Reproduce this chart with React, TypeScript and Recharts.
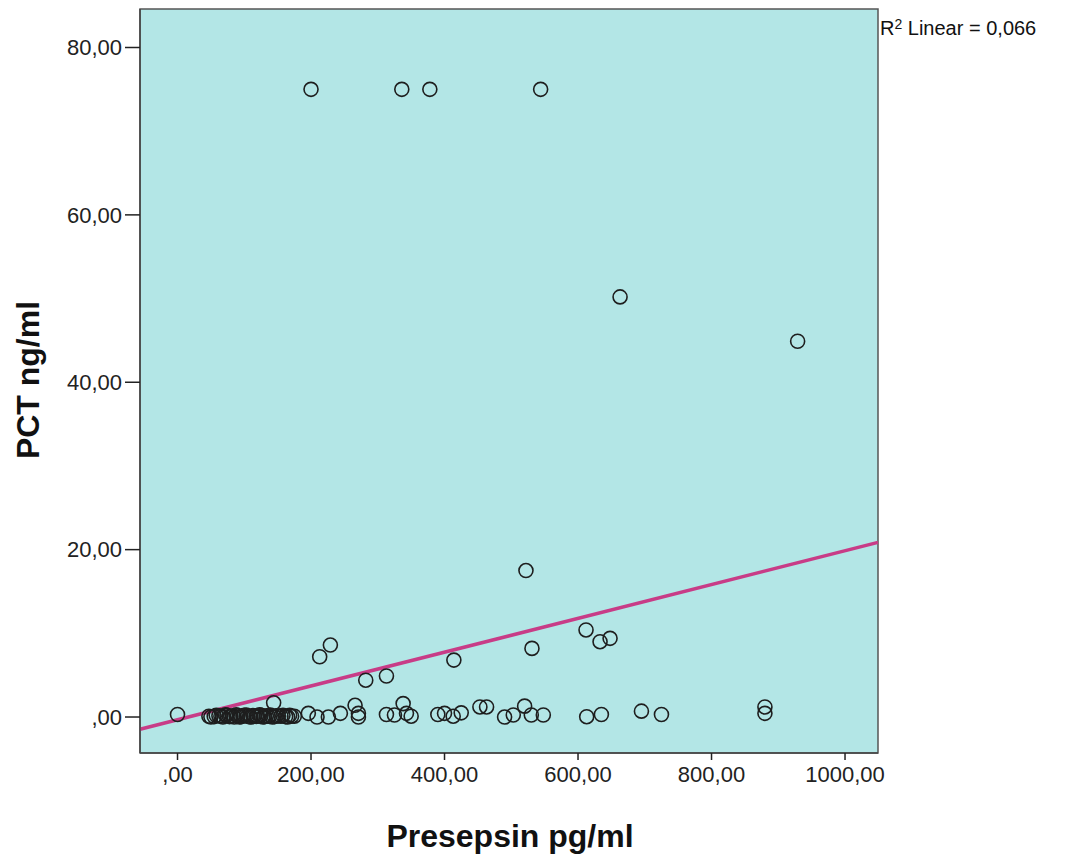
import React from "react";
import {
  ScatterChart,
  Scatter,
  XAxis,
  YAxis,
  CartesianGrid,
  ReferenceLine,
  ReferenceArea,
} from "recharts";

// Presepsin (pg/ml) values
const presepsin: number[] = [
  200, 336, 378, 544, 663, 929, 522,
  229, 213, 282, 313, 414, 531, 612, 633, 648,
  0,
  47, 55, 62, 68, 74, 80, 85, 90, 95, 100, 105, 110, 115, 120, 125, 130, 136, 142, 148, 155, 162, 168, 175,
  50, 58, 65, 72, 78, 83, 88, 93, 98, 103, 108, 113, 118, 123, 128, 133, 139, 145, 151, 158, 165, 171,
  144, 196, 209, 226, 244, 266, 271, 271, 313, 325, 338, 343, 350,
  390, 400, 413, 425, 453, 463, 490, 503, 520, 530, 548,
  613, 635, 695, 725, 880, 880,
];

// PCT (ng/ml) values
const pct: number[] = [
  75, 75, 75, 75, 50.2, 44.9, 17.5,
  8.6, 7.2, 4.4, 4.9, 6.8, 8.2, 10.4, 9.0, 9.4,
  0.3,
  0.1, 0.05, 0.15, 0.0, 0.2, 0.1, 0.0, 0.15, 0.05, 0.2, 0.1, 0.0, 0.15, 0.1, 0.2, 0.05, 0.1, 0.0, 0.15, 0.1, 0.05, 0.2, 0.1,
  0.0, 0.2, 0.1, 0.25, 0.05, 0.15, 0.25, 0.0, 0.12, 0.22, 0.03, 0.18, 0.08, 0.25, 0.0, 0.15, 0.22, 0.05, 0.12, 0.2, 0.0, 0.1,
  1.7, 0.44, 0.0, 0.0, 0.44, 1.4, 0.44, 0.0, 0.3, 0.24, 1.6, 0.44, 0.1,
  0.3, 0.44, 0.1, 0.5, 1.2, 1.2, 0.0, 0.24, 1.3, 0.24, 0.24,
  0.04, 0.3, 0.7, 0.3, 1.2, 0.44,
];

const xTicks: number[] = [0, 200, 400, 600, 800, 1000];
const yTicks: number[] = [0, 20, 40, 60, 80];

const xDomain: [number, number] = [-56.2, 1049.4];
const yDomain: [number, number] = [-4.3, 84.6];

// Linear fit: PCT = a + b * Presepsin
const fitIntercept = -0.33;
const fitSlope = 0.0202;

const points = presepsin.map((x, i) => ({ x, y: pct[i] }));

const fmt = (v: number) => {
  if (v === 0) return ",00";
  return `${v},00`;
};

const FONT = "'Liberation Sans', Arial, sans-serif";

const Ring = (props: any) => {
  const { cx, cy } = props;
  if (cx == null || cy == null) return null;
  return <circle cx={cx} cy={cy} r={7} fill="none" stroke="#1e1e1e" strokeWidth={1.6} />;
};

export default function App() {
  return (
    <div style={{ position: "absolute", left: 0, top: 0, width: 1081, height: 858, background: "#fff" }}>
      <ScatterChart
        width={1081}
        height={858}
        margin={{ top: 9, right: 203, bottom: 0, left: 0 }}
      >
        <CartesianGrid horizontal={false} vertical={false} fill="#b3e6e6" />
        <XAxis
          type="number"
          dataKey="x"
          domain={xDomain}
          allowDataOverflow
          ticks={xTicks}
          tickFormatter={fmt}
          height={105}
          tickSize={7}
          tickMargin={6}
          axisLine={{ stroke: "#444", strokeWidth: 1.5 }}
          tickLine={{ stroke: "#222", strokeWidth: 1.5 }}
          tick={{ fill: "#222", fontSize: 22, fontFamily: FONT }}
          label={{
            content: () => (
              <text
                x={510}
                y={836}
                textAnchor="middle"
                dominantBaseline="central"
                fontFamily={FONT}
                fontWeight="bold"
                fontSize={32}
                fill="#111"
              >
                Presepsin pg/ml
              </text>
            ),
          }}
        />
        <YAxis
          type="number"
          dataKey="y"
          domain={yDomain}
          allowDataOverflow
          ticks={yTicks}
          tickFormatter={fmt}
          width={140}
          tickSize={15}
          tickMargin={3}
          axisLine={{ stroke: "#444", strokeWidth: 1.5 }}
          tickLine={{ stroke: "#222", strokeWidth: 1.5 }}
          tick={{ fill: "#222", fontSize: 22, fontFamily: FONT }}
          label={{
            content: () => (
              <text
                x={28}
                y={380}
                transform="rotate(-90 28 380)"
                textAnchor="middle"
                dominantBaseline="central"
                fontFamily={FONT}
                fontWeight="bold"
                fontSize={32}
                fill="#111"
              >
                PCT ng/ml
              </text>
            ),
          }}
        />
        <ReferenceArea
          x1={xDomain[0]}
          x2={xDomain[1]}
          y1={yDomain[0]}
          y2={yDomain[1]}
          fill="none"
          stroke="#555"
          strokeWidth={1.5}
          ifOverflow="visible"
        />
        <ReferenceLine
          segment={[
            { x: xDomain[0], y: fitIntercept + fitSlope * xDomain[0] },
            { x: xDomain[1], y: fitIntercept + fitSlope * xDomain[1] },
          ]}
          stroke="#c83c87"
          strokeWidth={3.5}
          ifOverflow="visible"
        />
        <Scatter data={points} shape={<Ring />} isAnimationActive={false} />
      </ScatterChart>
      <div
        style={{
          position: "absolute",
          left: 880,
          top: 16,
          fontFamily: FONT,
          fontSize: 20,
          color: "#111",
          whiteSpace: "nowrap",
        }}
      >
        R<sup style={{ fontSize: 14, verticalAlign: "6px" }}>2</sup> Linear = 0,066
      </div>
    </div>
  );
}
